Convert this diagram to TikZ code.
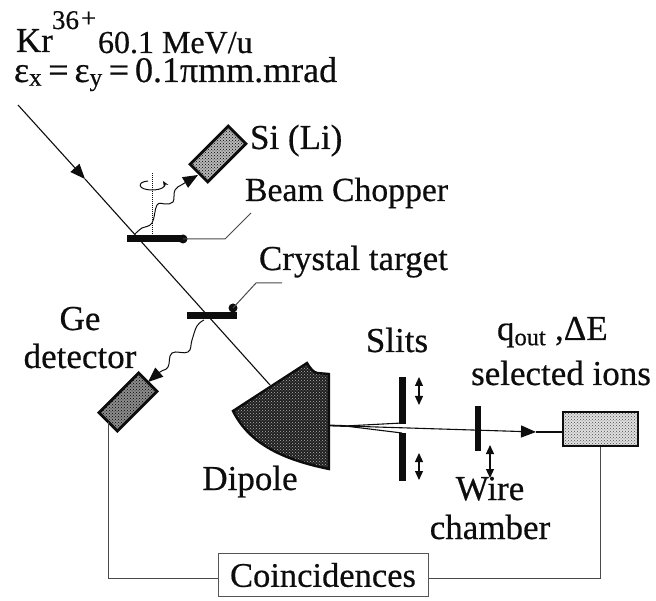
\documentclass[tikz,border=0pt]{standalone}
\usepackage{fontspec}
\setmainfont{Liberation Serif}[RawFeature={embolden=0.5}]
\usetikzlibrary{arrows.meta,patterns}
\definecolor{ink}{gray}{0.05}
\tikzset{
  x=1pt,y=-1pt,
  lbl/.style={anchor=base west,inner sep=0pt,outer sep=0pt,text=ink,font=\fontsize{35}{38}\selectfont},
  lblc/.style={lbl,anchor=base},
  thin line/.style={draw=ink,line width=1.1pt},
  bar/.style={draw=ink,line width=7pt,line cap=butt},
  lead/.style={draw=ink!75,line width=1pt},
  detector/.style={draw=ink,line width=2.8pt,preaction={fill=black!28},pattern=crosshatch dots,pattern color=black,rotate=45,inner sep=0pt,outer sep=0pt},
  tip/.style={-{Triangle[length=15pt,width=12pt]}},
  updown/.style={draw=ink,line width=1.2pt,{Triangle[length=9pt,width=8pt]}-{Triangle[length=9pt,width=8pt]}},
}
\begin{document}
\begin{tikzpicture}
\useasboundingbox (0,0) rectangle (656,601);
% text
\node[lbl] (kr) at (16,52) {Kr};
\node[lbl,font=\fontsize{27}{29}\selectfont] (krq) at (52,29) {36};
\node[lbl,font=\fontsize{27}{29}\selectfont] (krp) at (81,27) {+};
\node[lbl,font=\fontsize{32}{36}\selectfont] (en) at (98,53) {60.1 MeV/u};
\node[lbl,font=\fontsize{36}{38}\selectfont] (emt) at (14,82) {ε\textsubscript{x}\,=\,ε\textsubscript{y}\,=\,0.1πmm.mrad};
\node[lbl] (si) at (250,149) {Si (Li)};
\node[lbl,font=\fontsize{33.7}{36}\selectfont] (chop) at (245,201) {Beam Chopper};
\node[lbl] (crys) at (259,270) {Crystal target};
\node[lblc] (ge) at (80,330) {Ge};
\node[lblc] (det) at (80,368) {detector};
\node[lblc] (sl) at (397,352) {Slits};
\node[lbl] (q) at (497,340) {q\textsubscript{out} ,ΔE};
\node[lblc] (sel) at (561,385) {selected ions};
\node[lblc] (dip) at (250,490) {Dipole};
\node[lblc] (wire) at (490,500) {Wire};
\node[lblc] (cham) at (490,539) {chamber};
% boxes
\node[draw=ink!70,line width=1pt,minimum width=210pt,minimum height=43pt,inner sep=0pt,font=\fontsize{34.5}{36}\selectfont,text=ink] (coinc) at (323,575) {Coincidences};
\node[detector,minimum width=54pt,minimum height=25pt] (sidet) at (218,154) {};
\node[detector,minimum width=56pt,minimum height=26pt,preaction={fill=black!45}] (gedet) at (128,402) {};
\node[draw=ink,line width=2pt,preaction={fill=black!12},pattern=crosshatch dots,pattern color=black!70,minimum width=75pt,minimum height=34pt,inner sep=0pt] (selbox) at (600.5,429) {};
% dipole
\coordinate (d1) at (233,411);
\coordinate (d2) at (307,363);
\coordinate (d3) at (317,373);
\coordinate (d4) at (329,374);
\coordinate (d5) at (329,469);
\path[fill=black!88] (d1) -- (d2) .. controls (310,368) and (313,372) .. (d3) -- (d4) -- (d5) .. controls (285,460) and (250,445) .. (d1) -- cycle;
\path[draw=ink,line width=2.4pt,pattern=crosshatch dots,pattern color=white!70!black] (d1) -- (d2) .. controls (310,368) and (313,372) .. (d3) -- (d4) -- (d5) .. controls (285,460) and (250,445) .. (d1) -- cycle;
% beam
\coordinate (b0) at (18,105);
\coordinate (b1) at (85,179);
\coordinate (b2) at (270,385);
\draw[thin line,tip] (b0) -- (b1);
\draw[thin line] (b1) -- (b2);
\coordinate (out) at (330,425.5);
\coordinate (fan) at (345,426);
\coordinate (tipc) at (536,432);
\coordinate (su) at (402,423);
\coordinate (sd) at (402,433);
\draw[thin line,line width=1.8pt] (out) -- (fan);
\draw[thin line] (fan) -- (su);
\draw[thin line] (fan) -- (sd);
\draw[thin line,tip] (fan) -- (tipc);
\draw[thin line] (tipc) -- (selbox.west |- tipc);
% slits and wire
\coordinate (s1) at (402,377); \coordinate (s2) at (402,424);
\coordinate (s3) at (402,433); \coordinate (s4) at (402,481);
\draw[bar] (s1) -- (s2);
\draw[bar] (s3) -- (s4);
\coordinate (w1) at (478,406); \coordinate (w2) at (478,451);
\draw[bar,line width=6pt] (w1) -- (w2);
\coordinate (a1) at (419,377); \coordinate (a2) at (419,405);
\coordinate (a3) at (419,453); \coordinate (a4) at (419,480);
\coordinate (a5) at (490,445); \coordinate (a6) at (490,478);
\draw[updown] (a1) -- (a2);
\draw[updown] (a3) -- (a4);
\draw[updown] (a5) -- (a6);
% chopper
\coordinate (c1) at (127,239); \coordinate (c2) at (183,239);
\draw[bar] (c1) -- (c2);
\fill[ink] (c2) circle (4.5);
\coordinate (cl1) at (225,239); \coordinate (cl2) at (251,213);
\draw[lead] (c2) -- (cl1) -- (cl2);
\coordinate (ax1) at (152,173); \coordinate (ax2) at (152,236);
\draw[draw=ink,line width=1pt,densely dotted] (ax1) -- (ax2);
\draw[draw=ink,line width=1pt,-{Stealth[length=6pt,width=5pt]}] (148,181) .. controls (136,182) and (138,190) .. (152,190) .. controls (162,190) and (166,186) .. (163,181);
% crystal
\coordinate (t1) at (187,316); \coordinate (t2) at (237,316);
\draw[bar] (t1) -- (t2);
\coordinate (tc) at (233,308);
\fill[ink] (tc) circle (4.5);
\coordinate (tl1) at (256,283); \coordinate (tl2) at (282,283);
\draw[lead] (tc) -- (tl1) -- (tl2);
% wavy emissions
\draw[draw=ink,line width=1pt,tip] plot[smooth,tension=0.7] coordinates {(135,234) (142,228) (152,223) (157,205) (165,204) (173,202) (175,190) (183,184) (198,175)};
\draw[draw=ink,line width=1pt,tip] plot[smooth,tension=0.7] coordinates {(204,320) (197,326) (192,340) (188,352) (172,353) (168,367) (160,372) (148,382)};
% readout
\coordinate (rl) at (coinc.west |- 0,578);
\coordinate (rr) at (coinc.east |- 0,578);
\draw[lead] (gedet.west) |- (rl);
\draw[lead] (rr) -| (selbox.south);
\end{tikzpicture}
\end{document}
